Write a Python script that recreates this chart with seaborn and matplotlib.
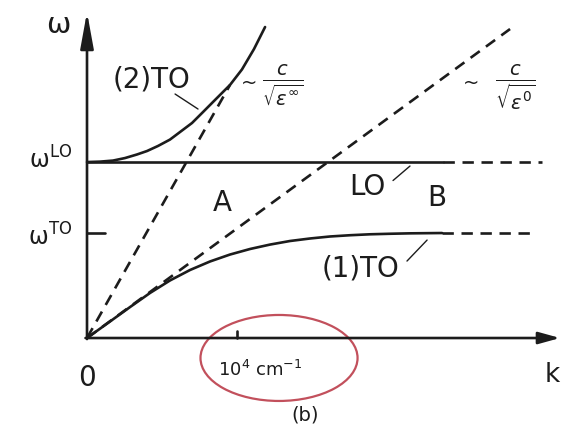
import matplotlib
matplotlib.use("Agg")
import matplotlib.pyplot as plt
from matplotlib.patches import Ellipse
import seaborn as sns

# Wave vector k in units of 10^4 cm^-1, frequency in units of omega_TO
w_TO = 1.0
w_LO = 1.676

# Lower polariton branch (1)TO
lower_k = [0.0, 0.153, 0.287, 0.42, 0.553, 0.687, 0.82, 0.953, 1.087, 1.22,
           1.353, 1.487, 1.62, 1.753, 1.887, 2.02, 2.153, 2.367]
lower_w = [0.0, 0.157, 0.295, 0.429, 0.548, 0.648, 0.729, 0.795, 0.848, 0.89,
           0.924, 0.948, 0.967, 0.979, 0.988, 0.993, 0.997, 1.0]

# Upper polariton branch (2)TO
upper_k = [0.0, 0.087, 0.173, 0.253, 0.333, 0.4, 0.473, 0.553, 0.62, 0.7,
           0.773, 0.853, 0.953, 1.033, 1.113, 1.187]
upper_w = [1.676, 1.68, 1.69, 1.714, 1.748, 1.781, 1.829, 1.89, 1.962, 2.048,
           2.152, 2.267, 2.41, 2.558, 2.752, 2.962]

# Photon lines  w = c k / sqrt(eps)
steep_k = [0.0, 0.953]         # c / sqrt(eps_inf)
steep_w = [0.0, 2.41]
shallow_k = [0.0, 2.82]        # c / sqrt(eps_0)
shallow_w = [0.0, 2.943]

# Flat LO / TO levels
lo_solid_k = [0.0, 2.373]
lo_dash_k = [2.373, 3.033]
to_dash_k = [2.367, 2.973]

k_tick = 1.0

sns.set_theme(style="white")
plt.rcParams["font.family"] = ["DejaVu Sans"]
plt.rcParams["mathtext.fontset"] = "dejavusans"

ink = "#1c1c1c"
fig = plt.figure(figsize=(5.63, 4.27), dpi=100)
ax = fig.add_axes([0, 0, 1, 1])
ax.set_xlim(-0.58, 3.173)
ax.set_ylim(-0.838, 3.229)
ax.axis("off")

solid = dict(color=ink, lw=1.9)
dashed = dict(color=ink, lw=1.9, linestyle=(0, (4.3, 2.9)))

# axes with arrow heads
ax.annotate("", xy=(0, 3.105), xytext=(0, -0.01),
            arrowprops=dict(arrowstyle="-|>,head_length=1.1,head_width=0.2",
                            mutation_scale=20, lw=1.9, color=ink, shrinkA=0, shrinkB=0))
ax.annotate("", xy=(3.153, 0), xytext=(-0.01, 0),
            arrowprops=dict(arrowstyle="-|>,head_length=0.65,head_width=0.18",
                            mutation_scale=20, lw=1.9, color=ink, shrinkA=0, shrinkB=0))

# branches
sns.lineplot(x=lower_k, y=lower_w, ax=ax, estimator=None, **solid)
sns.lineplot(x=upper_k, y=upper_w, ax=ax, estimator=None, **solid)
sns.lineplot(x=lo_solid_k, y=[w_LO, w_LO], ax=ax, estimator=None, **solid)
sns.lineplot(x=lo_dash_k, y=[w_LO, w_LO], ax=ax, estimator=None, **dashed)
sns.lineplot(x=to_dash_k, y=[w_TO, w_TO], ax=ax, estimator=None, **dashed)
sns.lineplot(x=steep_k, y=steep_w, ax=ax, estimator=None, **dashed)
sns.lineplot(x=shallow_k, y=shallow_w, ax=ax, estimator=None, **dashed)

# ticks
ax.plot([0, 0.12], [w_TO, w_TO], color=ink, lw=1.9)
ax.plot([k_tick, k_tick], [0, 0.065], color=ink, lw=1.9)

big = 20
ax.text(-0.193, 2.99, "ω", fontsize=21, color=ink, ha="center", va="center")
ax.text(-0.24, w_LO + 0.03, r"ω$^{\mathregular{LO}}$", fontsize=17, color=ink, ha="center", va="center")
ax.text(-0.247, w_TO - 0.03, r"ω$^{\mathregular{TO}}$", fontsize=17, color=ink, ha="center", va="center")
ax.text(0.0, -0.371, "0", fontsize=big, color=ink, ha="center", va="center")
ax.text(3.053, -0.343, "k", fontsize=19, color=ink, ha="left", va="center")

ax.text(0.433, 2.476, "(2)TO", fontsize=big, color=ink, ha="center", va="center")
ax.plot([0.587, 0.74], [2.324, 2.181], color=ink, lw=1.0)
ax.text(0.9, 1.295, "A", fontsize=big, color=ink, ha="center", va="center")
ax.text(1.867, 1.448, "LO", fontsize=big, color=ink, ha="center", va="center")
ax.plot([2.04, 2.153], [1.5, 1.638], color=ink, lw=1.0)
ax.text(2.333, 1.343, "B", fontsize=big, color=ink, ha="center", va="center")
ax.text(1.82, 0.676, "(1)TO", fontsize=big, color=ink, ha="center", va="center")
ax.plot([2.133, 2.267], [0.733, 0.933], color=ink, lw=1.0)

ax.text(1.08, 2.438, "~", fontsize=14, color=ink, ha="center", va="center")
ax.text(1.307, 2.42, r"$\frac{c}{\sqrt{\epsilon^{\infty}}}$", fontsize=20, color=ink, ha="center", va="center")
ax.text(2.56, 2.438, "~", fontsize=14, color=ink, ha="center", va="center")
ax.text(2.853, 2.40, r"$\frac{c}{\sqrt{\epsilon^{0}}}$", fontsize=20, color=ink, ha="center", va="center")

ax.text(1.153, -0.29, r"10$^{4}$ cm$^{-1}$", fontsize=13, color=ink, ha="center", va="center")
ax.text(1.453, -0.724, "(b)", fontsize=14, color=ink, ha="center", va="center")

ax.add_patch(Ellipse((1.28, -0.19), 1.047, 0.819, fill=False, ec="#c2505c", lw=1.6))

fig.savefig("out.png", dpi=100)
